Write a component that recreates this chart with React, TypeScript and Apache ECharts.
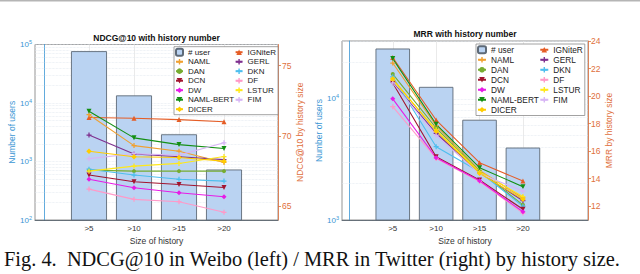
import React, { useEffect, useRef } from "react";
import * as echarts from "echarts";

// ---------------- data ----------------
const historyBins = [">5", ">10", ">15", ">20"];
const binPositions = [1, 2, 3, 4];

const weiboUsers = [77000, 13500, 2920, 730];
const twitterUsers = [26000, 12550, 6720, 3960];

// NDCG@10 (Weibo) per history bin
const weiboIGNiteR = [71.3, 71.25, 71.15, 71.0];
const weiboNAML = [71.5, 69.3, 68.9, 68.1];
const weiboGERL = [70.05, 68.7, 68.5, 68.3];
const weiboDAN = [67.55, 67.48, 67.48, 67.48];
const weiboDKN = [67.62, 67.2, 66.9, 66.77];
const weiboDCN = [67.2, 66.72, 66.53, 66.32];
const weiboDF = [66.2, 65.47, 65.3, 64.55];
const weiboDW = [66.9, 66.3, 65.94, 65.66];
const weiboLSTUR = [67.48, 67.84, 68.03, 68.52];
const weiboNAMLBERT = [71.74, 69.85, 69.37, 69.09];
const weiboFIM = [68.37, 68.72, 68.62, 69.5];
const weiboDICER = [68.9, 68.5, 68.45, 68.19];

// MRR (Twitter) per history bin
const twitterIGNiteR = [22.8, 18.26, 15.16, 13.83];
const twitterNAML = [22.4, 17.85, 14.6, 12.6];
const twitterGERL = [21.0, 17.3, 14.45, 12.4];
const twitterDAN = [21.6, 17.68, 14.55, 12.1];
const twitterDKN = [21.4, 16.32, 14.5, 12.0];
const twitterDCN = [20.95, 15.6, 13.9, 11.78];
const twitterDF = [19.23, 15.47, 13.8, 11.5];
const twitterDW = [19.8, 15.52, 13.85, 11.6];
const twitterLSTUR = [21.15, 17.55, 14.5, 12.7];
const twitterNAMLBERT = [22.72, 17.95, 14.8, 13.42];
const twitterFIM = [20.95, 17.15, 14.35, 13.1];
const twitterDICER = [21.25, 17.45, 14.4, 12.5];

const methodNames = ["IGNiteR", "NAML", "GERL", "DAN", "DKN", "DCN", "DF", "DW", "LSTUR", "NAML-BERT", "FIM", "DICER"];
const legendOrder = ["# user", "NAML", "DAN", "DCN", "DW", "NAML-BERT", "DICER", "IGNiteR", "GERL", "DKN", "DF", "LSTUR", "FIM"];

const ndcgTicks = [65, 70, 75];
const mrrTicks = [12, 14, 16, 18, 20, 22, 24];
const weiboMinorGrid = [200, 300, 400, 500, 600, 700, 800, 900, 2000, 3000, 4000, 5000, 6000, 7000, 8000, 9000, 20000, 30000, 40000, 50000, 60000, 70000, 80000, 90000];
const twitterMinorGrid = [2000, 3000, 4000, 5000, 6000, 7000, 8000, 9000, 20000];

const weiboScores: Record<string, number[]> = {
  "IGNiteR": weiboIGNiteR, "NAML": weiboNAML, "GERL": weiboGERL, "DAN": weiboDAN,
  "DKN": weiboDKN, "DCN": weiboDCN, "DF": weiboDF, "DW": weiboDW, "LSTUR": weiboLSTUR,
  "NAML-BERT": weiboNAMLBERT, "FIM": weiboFIM, "DICER": weiboDICER,
};
const twitterScores: Record<string, number[]> = {
  "IGNiteR": twitterIGNiteR, "NAML": twitterNAML, "GERL": twitterGERL, "DAN": twitterDAN,
  "DKN": twitterDKN, "DCN": twitterDCN, "DF": twitterDF, "DW": twitterDW, "LSTUR": twitterLSTUR,
  "NAML-BERT": twitterNAMLBERT, "FIM": twitterFIM, "DICER": twitterDICER,
};

// ---------------- styles ----------------
const PLUS = "path://M3,0h2v3h3v2h-3v3h-2v-3h-3v-2h3z";
const TRI_DOWN = "path://M0,0L10,0L5,9Z";
const methodStyles: Record<string, { color: string; symbol: string; size: number }> = {
  "IGNiteR": { color: "#e55d26", symbol: "triangle", size: 5 },
  "NAML": { color: "#f0a030", symbol: PLUS, size: 5 },
  "GERL": { color: "#7e2f8e", symbol: PLUS, size: 5 },
  "DAN": { color: "#77ac30", symbol: "circle", size: 4 },
  "DKN": { color: "#4dbeee", symbol: PLUS, size: 5 },
  "DCN": { color: "#a2142f", symbol: TRI_DOWN, size: 5 },
  "DF": { color: "#ff99c8", symbol: PLUS, size: 5 },
  "DW": { color: "#e61ce6", symbol: "diamond", size: 5 },
  "LSTUR": { color: "#ffe81a", symbol: PLUS, size: 5 },
  "NAML-BERT": { color: "#138f13", symbol: TRI_DOWN, size: 5 },
  "FIM": { color: "#d7b5f5", symbol: PLUS, size: 5 },
  "DICER": { color: "#ffcc00", symbol: "diamond", size: 5.5 },
};

const BLUE = "#3a96d4";
const ORANGE = "#e0703c";
const FONT = "'Liberation Sans', Arial, sans-serif";
const logFmt = (v: number) => {
  const l = Math.log10(v);
  const e = Math.round(l);
  return Math.abs(l - e) < 1e-6 ? "{b|10}{s|" + e + "}" : "";
};

function buildOption() {
  const xAxisBase = (gridIndex: number, min: number, max: number) => ({
    gridIndex,
    type: "value",
    min,
    max,
    axisLine: { show: true, onZero: false, lineStyle: { color: "#4a5560", width: 0.8 } },
    axisTick: { show: true, customValues: binPositions, inside: true, length: 2, lineStyle: { color: "#4a5560", width: 0.6 } },
    axisLabel: {
      customValues: binPositions,
      formatter: (v: number) => historyBins[Math.round(v) - 1] ?? "",
      fontSize: 8,
      color: "#333",
      margin: 4,
      fontFamily: FONT,
    },
    splitLine: { show: true, lineStyle: { color: "#e4e4e4", width: 0.8 } },
    name: "Size of history",
    nameLocation: "middle",
    nameGap: 13,
    nameTextStyle: { fontSize: 8.5, color: "#333", fontFamily: FONT },
  });

  const logAxis = (gridIndex: number, min: number, max: number, nameGap: number) => ({
    gridIndex,
    type: "log",
    logBase: 10,
    min,
    max,
    position: "left",
    axisLine: { show: true, lineStyle: { color: BLUE, width: 0.8 } },
    axisTick: { show: false },
    axisLabel: {
      formatter: logFmt,
      color: BLUE,
      fontSize: 8,
      margin: 3,
      fontFamily: FONT,
      rich: {
        b: { fontSize: 8, color: BLUE, fontFamily: FONT },
        s: { fontSize: 5.5, color: BLUE, fontFamily: FONT, padding: [0, 0, 5, 0] },
      },
    },
    splitLine: { show: true, lineStyle: { color: "#dfe7ef", width: 0.7, type: "dotted" } },
    name: "Number of users",
    nameLocation: "middle",
    nameGap,
    nameTextStyle: { color: BLUE, fontSize: 8.5, fontFamily: FONT },
  });

  const scoreAxis = (gridIndex: number, min: number, max: number, ticks: number[], name: string, margin: number, nameGap: number) => ({
    gridIndex,
    type: "value",
    min,
    max,
    position: "right",
    axisLine: { show: true, lineStyle: { color: ORANGE, width: 0.8 } },
    axisTick: { show: true, customValues: ticks, length: 3, lineStyle: { color: ORANGE, width: 0.8 } },
    axisLabel: { customValues: ticks, color: ORANGE, fontSize: 8.5, margin, fontFamily: FONT },
    splitLine: { show: false },
    name,
    nameLocation: "middle",
    nameRotate: 90,
    nameGap,
    nameTextStyle: { color: ORANGE, fontSize: 8.5, fontFamily: FONT },
  });

  const series: any[] = [];
  const addPanel = (xi: number, yLog: number, yScore: number, users: number[], scores: Record<string, number[]>, minor: number[], barWidth: number) => {
    series.push({
      type: "line",
      name: "__grid" + xi,
      xAxisIndex: xi,
      yAxisIndex: yLog,
      data: [],
      silent: true,
      z: 1,
      markLine: {
        silent: true,
        symbol: "none",
        z: 1,
        label: { show: false },
        lineStyle: { color: "#dfe7ef", width: 0.7, type: "dotted" },
        data: minor.map((v) => ({ yAxis: v })),
      },
    });
    series.push({
      type: "bar",
      name: "# user",
      xAxisIndex: xi,
      yAxisIndex: yLog,
      barWidth,
      z: 2,
      itemStyle: { color: "#bad3f2", borderColor: "#5e6a77", borderWidth: 0.9 },
      data: users.map((v, i) => [binPositions[i], v]),
    });
    methodNames.forEach((m) => {
      const st = methodStyles[m];
      series.push({
        type: "line",
        name: m,
        xAxisIndex: xi,
        yAxisIndex: yScore,
        z: 3,
        symbol: st.symbol,
        symbolSize: st.size,
        lineStyle: { color: st.color, width: 1.1 },
        itemStyle: { color: st.color },
        data: scores[m].map((v, i) => [binPositions[i], v]),
      });
    });
  };
  addPanel(0, 0, 1, weiboUsers, weiboScores, weiboMinorGrid, 36);
  addPanel(1, 2, 3, twitterUsers, twitterScores, twitterMinorGrid, 34.5);

  const legendBase = (left: number, top: number, height: number, fontSize: number, lineHeight: number, itemWidth: number) => ({
    left,
    top,
    orient: "vertical",
    height,
    itemWidth,
    itemHeight: 7,
    itemGap: 0.5,
    padding: [1, 2, 1, 1],
    backgroundColor: "#ffffff",
    borderColor: "#8a8a8a",
    borderWidth: 0.8,
    borderRadius: 0,
    selectedMode: false,
    textStyle: { fontSize, lineHeight, color: "#222", fontFamily: FONT },
    data: legendOrder,
  });

  return {
    animation: false,
    backgroundColor: "#ffffff",
    textStyle: { fontFamily: FONT },
    title: [
      {
        text: "NDCG@10 with history number",
        left: 156.5,
        top: 33.5,
        textAlign: "center",
        padding: 0,
        textStyle: { fontSize: 8.5, fontWeight: "bold", color: "#111", fontFamily: FONT },
      },
      {
        text: "MRR with history number",
        left: 465,
        top: 29.7,
        textAlign: "center",
        padding: 0,
        textStyle: { fontSize: 8.5, fontWeight: "bold", color: "#111", fontFamily: FONT },
      },
    ],
    legend: [
      legendBase(174, 46.7, 70, 8, 9, 7),
      legendBase(476, 44, 72, 8.3, 9.5, 8),
    ],
    grid: [
      { left: 35, top: 44.5, width: 243, height: 175.5, show: true, borderColor: "#7a7a7a", borderWidth: 0.8, containLabel: false },
      { left: 342, top: 41, width: 246, height: 179, show: true, borderColor: "#7a7a7a", borderWidth: 0.8, containLabel: false },
    ],
    xAxis: [xAxisBase(0, -0.2, 5.2), xAxisBase(1, -0.17, 5.5)],
    yAxis: [
      logAxis(0, 100, 100000, 16.5),
      scoreAxis(0, 64, 76.5, ndcgTicks, "NDCG@10 by history size", 4, 15.5),
      logAxis(1, 1000, 30000, 13),
      scoreAxis(1, 11, 24, mrrTicks, "MRR by history size", 3, 12.5),
    ],
    series,
    graphic: [
      { type: "rect", shape: { x: 0, y: 0, width: 640, height: 1.5 }, style: { fill: "#b5b5b5" }, silent: true },
      {
        type: "text",
        left: 4,
        top: 249,
        style: {
          text: "Fig. 4.  NDCG@10 in Weibo (left) / MRR in Twitter (right) by history size.",
          fontSize: 20.4,
          fontFamily: "'Liberation Serif', 'Times New Roman', serif",
          fill: "#111",
        },
        silent: true,
      },
    ],
  };
}

export default function App() {
  const ref = useRef<HTMLDivElement>(null);
  useEffect(() => {
    if (!ref.current) return;
    const chart = echarts.init(ref.current, null, { renderer: "svg" });
    chart.setOption(buildOption() as any);
    return () => chart.dispose();
  }, []);
  return (
    <div
      ref={ref}
      style={{ position: "fixed", left: 0, top: 0, width: 640, height: 274, background: "#fff" }}
    />
  );
}
